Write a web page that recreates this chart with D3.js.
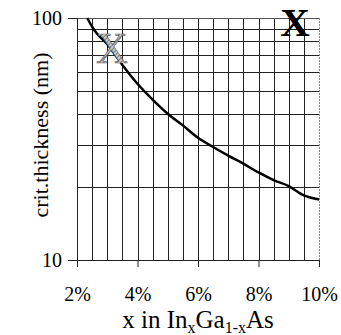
<!DOCTYPE html>
<html>
<head>
<meta charset="utf-8">
<script src="https://cdn.jsdelivr.net/npm/d3@7"></script>
<style>
  body { margin: 0; background: #fff; }
  svg text { font-family: "Liberation Serif", "DejaVu Serif", "Times New Roman", serif !important; fill: #000; }
</style>
</head>
<body>
<svg id="chart" width="341" height="335"></svg>
<script>
// data
const xTicks = [2, 4, 6, 8, 10];
const yTicks = [10, 100];
const xGrid = [2.5, 3, 3.5, 4, 4.5, 5, 5.5, 6, 6.5, 7, 7.5, 8, 8.5, 9, 9.5];
const yGrid = [20, 30, 40, 50, 60, 70, 80, 90];
const curveX = [2.34, 2.5, 2.65, 3.0, 3.5, 4.0, 4.5, 5.0, 5.5, 6.0, 6.5, 7.0, 7.5, 8.0, 8.5, 9.0, 9.5, 10.0];
const curveY = [100, 92, 86.5, 78, 64, 53.5, 46, 40.2, 36, 32, 29.3, 27, 25, 23, 21.4, 20.2, 18.5, 17.8];
const marker = {x: 3.15, y: 76};

const svg = d3.select("#chart");
const pLeft = 77, pRight = 319, pTop = 18, pBottom = 260;

const x = d3.scaleLinear().domain([2, 10]).range([pLeft, pRight]);
const y = d3.scaleLog().domain([10, 100]).range([pBottom, pTop]);

// hatch fill for the marker
const pat = svg.append("defs").append("pattern")
    .attr("id", "hatch")
    .attr("width", 3).attr("height", 3)
    .attr("patternUnits", "userSpaceOnUse")
    .attr("patternTransform", "rotate(45)");
pat.append("rect").attr("width", 3).attr("height", 3).attr("fill", "#ccc");
pat.append("line").attr("x1", 0).attr("y1", 0).attr("x2", 0).attr("y2", 3)
    .style("stroke", "#444").style("stroke-width", 1.2);

// grid
svg.append("g")
    .selectAll("line")
    .data(xGrid)
    .enter()
    .append("line")
    .attr("x1", d => Math.round(x(d)) + 0.5).attr("x2", d => Math.round(x(d)) + 0.5)
    .attr("y1", pTop).attr("y2", pBottom)
    .style("stroke", "#222")
    .style("stroke-width", 1);

svg.append("g")
    .selectAll("line")
    .data(yGrid)
    .enter()
    .append("line")
    .attr("x1", pLeft).attr("x2", pRight)
    .attr("y1", d => Math.round(y(d)) + 0.5).attr("y2", d => Math.round(y(d)) + 0.5)
    .style("stroke", "#222")
    .style("stroke-width", 1);

// frame: top and right
svg.append("line")
    .attr("x1", pLeft).attr("x2", pRight)
    .attr("y1", y(100) + 0.5).attr("y2", y(100) + 0.5)
    .style("stroke", "#555");
svg.append("line")
    .attr("x1", pRight + 0.5).attr("x2", pRight + 0.5)
    .attr("y1", pTop).attr("y2", pBottom)
    .style("stroke", "#888")
    .style("stroke-dasharray", "2,1");

// axes
const yAxis = svg.append("g")
    .attr("transform", `translate(${pLeft},0)`)
    .call(d3.axisLeft(y).tickValues(yTicks).tickFormat(d3.format("d")).tickSize(9).tickPadding(6));
const xAxis = svg.append("g")
    .attr("transform", `translate(0,${pBottom})`)
    .call(d3.axisBottom(x).tickValues(xTicks).tickFormat(d => d + "%").tickSize(7).tickPadding(20));

[yAxis, xAxis].forEach(g => {
    g.attr("font-family", null);
    g.select(".domain").style("stroke", "#222");
    g.selectAll(".tick line").style("stroke", "#222");
    g.selectAll("text").style("font-size", "20px").attr("fill", "#000");
});

// curve
const line = d3.line()
    .x((d, i) => x(curveX[i]))
    .y(d => y(d))
    .curve(d3.curveMonotoneX);

svg.append("path")
    .datum(curveY)
    .attr("d", line)
    .attr("fill", "none")
    .style("stroke", "#000")
    .style("stroke-width", 2.5);

// hatched X data marker
svg.append("text")
    .attr("x", x(marker.x))
    .attr("y", y(marker.y))
    .attr("text-anchor", "middle")
    .attr("dy", "0.36em")
    .style("font-size", "44px")
    .style("fill", "url(#hatch)")
    .style("stroke", "#555")
    .style("stroke-width", 0.6)
    .text("X");

// big X label
svg.append("text")
    .attr("x", 295)
    .attr("y", 36)
    .attr("text-anchor", "middle")
    .style("font-size", "41px")
    .style("font-weight", "bold")
    .text("X");

// axis titles
svg.append("text")
    .attr("transform", "translate(48,135) rotate(-90)")
    .attr("text-anchor", "middle")
    .style("font-size", "22px")
    .text("crit.thickness (nm)");

const xt = svg.append("text")
    .attr("x", 198)
    .attr("y", 328)
    .attr("text-anchor", "middle")
    .style("font-size", "25px");
xt.append("tspan").text("x in In");
xt.append("tspan").attr("dy", 5).style("font-size", "16px").text("x");
xt.append("tspan").attr("dy", -5).text("Ga");
xt.append("tspan").attr("dy", 5).style("font-size", "16px").text("1-x");
xt.append("tspan").attr("dy", -5).text("As");
</script>
</body>
</html>
